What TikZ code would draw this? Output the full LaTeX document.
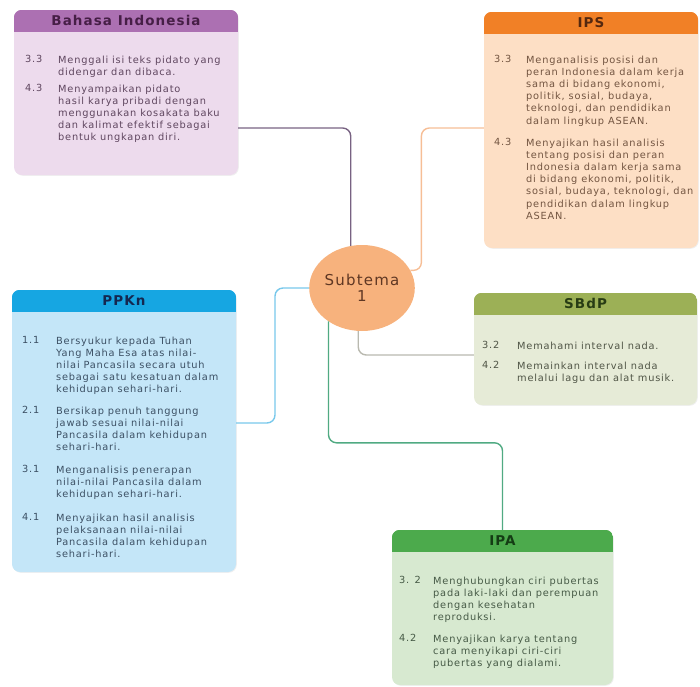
\documentclass[tikz,border=0pt]{standalone}
\usepackage{fontspec}
\setmainfont{DejaVu Sans}[LetterSpace=8]
\usetikzlibrary{positioning,shapes.geometric,shadows}

\definecolor{bihead}{RGB}{172,112,178}
\definecolor{bibody}{RGB}{237,219,237}
\definecolor{bitext}{RGB}{95,70,95}
\definecolor{bititle}{RGB}{70,30,70}
\definecolor{ipshead}{RGB}{241,128,38}
\definecolor{ipsbody}{RGB}{253,223,197}
\definecolor{ipstext}{RGB}{115,85,65}
\definecolor{ipstitle}{RGB}{85,40,15}
\definecolor{pkhead}{RGB}{22,166,226}
\definecolor{pkbody}{RGB}{196,230,248}
\definecolor{pktext}{RGB}{60,80,100}
\definecolor{pktitle}{RGB}{20,40,80}
\definecolor{sbhead}{RGB}{156,176,86}
\definecolor{sbbody}{RGB}{230,235,215}
\definecolor{sbtext}{RGB}{80,85,70}
\definecolor{sbtitle}{RGB}{40,60,20}
\definecolor{ipahead}{RGB}{76,170,76}
\definecolor{ipabody}{RGB}{215,233,208}
\definecolor{ipatext}{RGB}{70,90,70}
\definecolor{ipatitle}{RGB}{20,60,20}
\definecolor{subfill}{RGB}{247,178,125}
\definecolor{subtext}{RGB}{95,55,35}

\begin{document}
\begin{tikzpicture}[x=1pt,y=-1pt,
    box/.style={rectangle,rounded corners=8pt,inner sep=0pt,
      drop shadow={opacity=0.12,shadow xshift=0.8pt,shadow yshift=-0.8pt}},
    head/.style={font=\bfseries\fontsize{13.5}{16}\selectfont,inner sep=0pt},
    num/.style={font=\fontsize{9.8}{12.2}\selectfont,inner sep=0pt,anchor=north west},
    txt/.style={num,align=left},
    link/.style={line width=1.4pt,rounded corners=8pt}]
  \useasboundingbox (0,0) rectangle (700,686);

  % boxes
  \node[box,fill=bibody,minimum width=224pt,minimum height=165pt] (bi) at (126,92.5) {};
  \node[box,fill=ipsbody,minimum width=214pt,minimum height=236pt] (ips) at (591,130) {};
  \node[box,fill=pkbody,minimum width=224pt,minimum height=282pt] (pk) at (124,431) {};
  \node[box,fill=sbbody,minimum width=223pt,minimum height=112pt] (sb) at (585.5,349) {};
  \node[box,fill=ipabody,minimum width=221pt,minimum height=155pt] (ipa) at (502.5,607.5) {};

  % header bands
  \foreach \b/\c in {bi/bihead,ips/ipshead,pk/pkhead,sb/sbhead,ipa/ipahead} {
    \begin{scope}
      \clip[rounded corners=8pt] (\b.south west) rectangle (\b.north east);
      \fill[\c] (\b.north west) rectangle ([yshift=-22pt]\b.north east);
    \end{scope}
  }

  \node[head,text=bititle] (bititle) at ([yshift=-11pt]bi.north) {Bahasa Indonesia};
  \node[head,text=ipstitle] (ipstitle) at ([yshift=-11pt]ips.north) {IPS};
  \node[head,text=pktitle] (pktitle) at ([yshift=-11pt]pk.north) {PPKn};
  \node[head,text=sbtitle] (sbtitle) at ([yshift=-11pt]sb.north) {SBdP};
  \node[head,text=ipatitle] (ipatitle) at ([yshift=-11pt]ipa.north) {IPA};

  % centre
  \node[ellipse,fill=subfill,minimum width=102pt,minimum height=86pt,inner sep=0pt,
    align=center,text=subtext,font=\fontsize{15}{16}\selectfont] (sub) at (362,288) {Subtema\\1};

  % Bahasa Indonesia
  \begin{scope}[every node/.append style={text=bitext}]
    \node[num] (bi33) at (25,55.5) {3.3};
    \node[txt] (bi33t) at (58,55.5) {Menggali isi teks pidato yang\\didengar dan dibaca.};
    \node[num] (bi43) at (25,84.5) {4.3};
    \node[txt] (bi43t) at (58,84.5) {Menyampaikan pidato\\hasil karya pribadi dengan\\menggunakan kosakata baku\\dan kalimat efektif sebagai\\bentuk ungkapan diri.};
  \end{scope}

  % IPS
  \begin{scope}[every node/.append style={text=ipstext}]
    \node[num] (ips33) at (494,55.5) {3.3};
    \node[txt] (ips33t) at (526,55.5) {Menganalisis posisi dan\\peran Indonesia dalam kerja\\sama di bidang ekonomi,\\politik, sosial, budaya,\\teknologi, dan pendidikan\\dalam lingkup ASEAN.};
    \node[num] (ips43) at (494,138.5) {4.3};
    \node[txt] (ips43t) at (526,138.5) {Menyajikan hasil analisis\\tentang posisi dan peran\\Indonesia dalam kerja sama\\di bidang ekonomi, politik,\\sosial, budaya, teknologi, dan\\pendidikan dalam lingkup\\ASEAN.};
  \end{scope}

  % PPKn
  \begin{scope}[every node/.append style={text=pktext}]
    \node[num] (pk11) at (22,336.5) {1.1};
    \node[txt] (pk11t) at (56,336.5) {Bersyukur kepada Tuhan\\Yang Maha Esa atas nilai-\\nilai Pancasila secara utuh\\sebagai satu kesatuan dalam\\kehidupan sehari-hari.};
    \node[num] (pk21) at (22,406.5) {2.1};
    \node[txt] (pk21t) at (56,406.5) {Bersikap penuh tanggung\\jawab sesuai nilai-nilai\\Pancasila dalam kehidupan\\sehari-hari.};
    \node[num] (pk31) at (22,465.5) {3.1};
    \node[txt] (pk31t) at (56,465.5) {Menganalisis penerapan\\nilai-nilai Pancasila dalam\\kehidupan sehari-hari.};
    \node[num] (pk41) at (22,513.5) {4.1};
    \node[txt] (pk41t) at (56,513.5) {Menyajikan hasil analisis\\pelaksanaan nilai-nilai\\Pancasila dalam kehidupan\\sehari-hari.};
  \end{scope}

  % SBdP
  \begin{scope}[every node/.append style={text=sbtext}]
    \node[num] (sb32) at (482,341.5) {3.2};
    \node[txt] (sb32t) at (517,341.5) {Memahami interval nada.};
    \node[num] (sb42) at (482,361.5) {4.2};
    \node[txt] (sb42t) at (517,361.5) {Memainkan interval nada\\melalui lagu dan alat musik.};
  \end{scope}

  % IPA
  \begin{scope}[every node/.append style={text=ipatext}]
    \node[num] (ipa32) at (399,576.5) {3. 2};
    \node[txt] (ipa32t) at (433,576.5) {Menghubungkan ciri pubertas\\pada laki-laki dan perempuan\\dengan kesehatan\\reproduksi.};
    \node[num] (ipa42) at (399,634.5) {4.2};
    \node[txt] (ipa42t) at (433,634.5) {Menyajikan karya tentang\\cara menyikapi ciri-ciri\\pubertas yang dialami.};
  \end{scope}

  % connectors
  \draw[link,draw={rgb,255:red,120;green,98;blue,130}] ([yshift=-35.5pt]bi.east) -| (sub.105);
  \draw[link,draw={rgb,255:red,246;green,190;blue,150}] ([yshift=2pt]ips.west) -| ([xshift=11pt]sub.20) -- (sub.20);
  \draw[link,draw={rgb,255:red,120;green,200;blue,235}] ([yshift=8pt]pk.east) -| ([xshift=-34pt]sub.west) -- (sub.west);
  \draw[link,draw={rgb,255:red,185;green,185;blue,175}] (sub.265) |- ([yshift=-6pt]sb.west);
  \draw[link,draw={rgb,255:red,80;green,170;blue,130}] (sub.225) |- ([yshift=87pt]ipa.north) -- (ipa.north);
\end{tikzpicture}
\end{document}
